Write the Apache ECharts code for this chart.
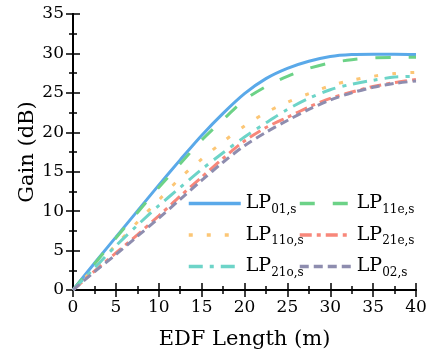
<!DOCTYPE html>
<html>
<head>
<meta charset="utf-8">
<script src="https://cdn.jsdelivr.net/npm/echarts@6/dist/echarts.min.js"></script>
<style>
  html, body { margin: 0; padding: 0; background: #fff; }
  #chart { width: 433px; height: 362px; }
</style>
</head>
<body>
<div id="chart"></div>
<script>
const lengths = [0, 2.5, 5, 7.5, 10, 12.5, 15, 17.5, 20, 22.5, 25, 27.5, 30, 32.5, 35, 37.5, 40];

const lp01 = [0, 3.4, 6.7, 10.0, 13.3, 16.5, 19.6, 22.4, 24.9, 26.8, 28.1, 29.0, 29.6, 29.85, 29.9, 29.9, 29.85];
const lp11e = [0, 3.3, 6.6, 9.8, 13.0, 16.0, 19.0, 21.6, 24.1, 25.8, 27.1, 28.1, 28.8, 29.2, 29.45, 29.5, 29.5];
const lp11o = [0, 2.8, 5.7, 8.6, 11.4, 14.2, 16.6, 18.8, 20.8, 22.5, 23.8, 24.9, 25.9, 26.6, 27.1, 27.45, 27.6];
const lp21e = [0, 2.4, 4.7, 7.0, 9.4, 11.9, 14.3, 16.7, 18.9, 20.6, 21.9, 23.2, 24.3, 25.1, 25.8, 26.3, 26.7];
const lp21o = [0, 2.8, 5.6, 8.2, 10.7, 13.0, 15.3, 17.4, 19.4, 21.2, 22.9, 24.3, 25.4, 26.1, 26.6, 27.0, 27.1];
const lp02 = [0, 2.3, 4.5, 6.8, 9.1, 11.5, 13.9, 16.2, 18.3, 20.0, 21.5, 22.9, 24.1, 25.0, 25.7, 26.2, 26.5];

const seriesNames = ["LP01,s", "LP11e,s", "LP11o,s", "LP21e,s", "LP21o,s", "LP02,s"];
const seriesValues = [lp01, lp11e, lp11o, lp21e, lp21o, lp02];
const colors = ["#5aa9e9", "#6cd287", "#fcc675", "#f8877a", "#6dd4c8", "#8e8daf"];
const dashes = ["solid", [15, 18], [4, 14], [12, 5, 4, 5], [14, 7, 4, 7], [9, 5]];

// Liberation Serif is not picked up here, DejaVu Serif is
const font = "DejaVu Serif";

const chart = echarts.init(document.getElementById("chart"));

const series = seriesNames.map((name, i) => ({
  name: name,
  type: "line",
  smooth: 0.3,
  symbol: "none",
  xAxisIndex: 0,
  yAxisIndex: 0,
  lineStyle: { width: 3, color: colors[i], type: dashes[i] },
  itemStyle: { color: colors[i] },
  data: lengths.map((x, j) => [x, seriesValues[i][j]]),
}));

const legendText = {
  fontFamily: font,
  color: "#000",
  rich: {
    a: { fontFamily: font, fontSize: 19, color: "#000" },
    b: { fontFamily: font, fontSize: 12, color: "#000", padding: [12, 0, 0, 0] },
  },
};

function legendLabel(name) {
  return "{a|LP}{b|" + name.slice(2) + "}";
}

const commonLegend = {
  orient: "vertical",
  itemWidth: 52,
  itemHeight: 14,
  itemGap: 10,
  textStyle: legendText,
  formatter: legendLabel,
  selectedMode: false,
  itemStyle: { opacity: 0 },
  lineStyle: { width: 3.5 },
};

const axisLine = { show: true, lineStyle: { color: "#000", width: 2 } };
const axisTick = { show: true, inside: true, length: 7, lineStyle: { color: "#000", width: 1.5 } };
const minorTick = { show: true, splitNumber: 2, length: 4, lineStyle: { color: "#000", width: 1.5 } };

chart.setOption({
  backgroundColor: "#fff",
  animation: false,
  textStyle: { fontFamily: font },
  grid: { left: 73, right: 17, top: 14, bottom: 72 },
  legend: [
    Object.assign({}, commonLegend, { left: 182, top: 189, data: [seriesNames[0], seriesNames[2], seriesNames[4]] }),
    Object.assign({}, commonLegend, { left: 293, top: 189, data: [seriesNames[1], seriesNames[3], seriesNames[5]] }),
  ],
  xAxis: [
    {
      type: "value",
      min: 0,
      max: 40,
      interval: 5,
      name: "EDF Length (m)",
      nameLocation: "middle",
      nameGap: 50,
      nameMoveOverlap: false,
      nameTextStyle: { fontFamily: font, fontSize: 21, color: "#000", verticalAlign: "middle" },
      axisLine: axisLine,
      axisTick: axisTick,
      minorTick: minorTick,
      splitLine: { show: false },
      axisLabel: { fontFamily: font, fontSize: 17, color: "#000", margin: 9 },
    },
    {
      type: "value",
      position: "top",
      min: 0,
      max: 40,
      interval: 5,
      axisLine: axisLine,
      axisTick: axisTick,
      minorTick: minorTick,
      splitLine: { show: false },
      axisLabel: { show: false },
    },
  ],
  yAxis: [
    {
      type: "value",
      min: 0,
      max: 35,
      interval: 5,
      name: "Gain (dB)",
      nameLocation: "middle",
      nameGap: 45,
      nameMoveOverlap: false,
      nameTextStyle: { fontFamily: font, fontSize: 21, color: "#000", verticalAlign: "middle" },
      axisLine: axisLine,
      axisTick: axisTick,
      minorTick: minorTick,
      splitLine: { show: false },
      axisLabel: { fontFamily: font, fontSize: 17, color: "#000", margin: 9 },
    },
    {
      type: "value",
      position: "right",
      min: 0,
      max: 35,
      interval: 5,
      axisLine: axisLine,
      axisTick: axisTick,
      minorTick: minorTick,
      splitLine: { show: false },
      axisLabel: { show: false },
    },
  ],
  series: series,
});
</script>
</body>
</html>
